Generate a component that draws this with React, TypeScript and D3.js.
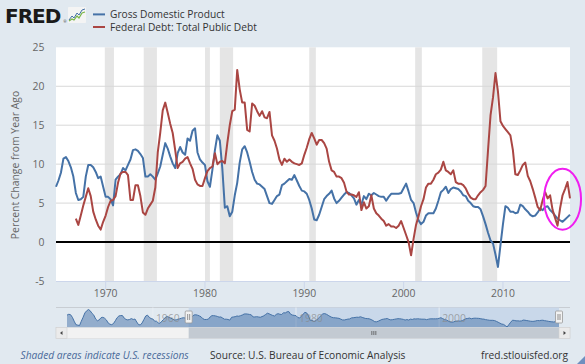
import React from "react";
import * as d3 from "d3";

// ---------- DATA ----------
// Gross Domestic Product, percent change from year ago, quarterly from 1948 Q1
const gdpStartYear = 1948;
const gdpValues: number[] = [
  10.5, 11.5, 11.0, 8.0,
  3.5, -0.5, -1.0, -1.5,
  3.5, 8.0, 13.0, 15.5,
  17.0, 15.5, 12.5, 10.5,
  6.0, 4.0, 5.0, 7.5,
  8.0, 7.0, 5.0, 1.5,
  0.0, -0.5, 0.8, 4.0,
  7.5, 9.5, 10.0, 10.0,
  7.0, 5.5, 5.0, 5.5,
  6.5, 5.5, 6.0, 2.5,
  -0.5, -0.8, 1.5, 5.5,
  9.5, 10.5, 8.0, 6.5,
  6.0, 3.5, 3.5, 1.5,
  1.2, 3.5, 5.5, 8.0,
  9.0, 8.0, 7.0, 6.0,
  5.0, 5.0, 5.8, 6.3,
  7.0, 7.5, 7.2, 6.5,
  7.1, 7.9, 8.9, 10.7, // 1965
  10.9, 10.4, 9.6, 8.4,
  6.3, 5.4, 5.5, 5.8,
  8.4, 9.9, 9.9, 9.6,
  9.0, 8.2, 8.4, 7.1,
  5.8, 5.8, 5.5, 4.7, // 1970
  8.0, 8.4, 8.7, 9.5,
  9.2, 9.9, 10.6, 11.8,
  11.9, 11.7, 11.3, 10.8,
  8.4, 8.4, 8.7, 8.4,
  8.0, 8.8, 9.7, 11.2, // 1975
  12.7, 12.0, 11.0, 10.1,
  9.5, 11.4, 12.2, 11.5,
  11.2, 13.3, 13.0, 14.3,
  14.6, 11.5, 10.6, 10.2,
  9.9, 7.8, 7.1, 9.3, // 1980
  11.8, 13.7, 13.0, 9.4,
  4.4, 4.6, 3.3, 3.9,
  6.0, 7.6, 10.2, 11.9,
  12.3, 11.5, 10.3, 9.0,
  8.0, 7.5, 7.4, 7.1, // 1985
  6.8, 5.9, 5.0, 4.9,
  5.4, 5.9, 6.1, 7.3,
  7.5, 7.8, 8.1, 8.0,
  8.6, 7.9, 7.2, 6.6,
  6.5, 6.2, 5.4, 4.3, // 1990
  2.9, 2.8, 3.5, 4.5,
  5.5, 5.9, 6.2, 6.6,
  5.6, 5.0, 5.3, 5.7,
  6.1, 6.4, 6.3, 6.0,
  5.6, 4.8, 5.4, 4.8, // 1995
  5.9, 5.5, 6.2, 6.0,
  6.3, 6.1, 5.9, 5.8,
  5.8, 5.3, 5.8, 6.2,
  6.2, 6.2, 6.2, 6.3,
  6.9, 7.5, 6.5, 5.4, // 2000
  5.0, 3.8, 2.8, 2.3,
  2.6, 3.4, 3.7, 3.7,
  3.7, 4.3, 5.3, 6.4,
  6.7, 7.1, 6.3, 6.8,
  7.0, 6.9, 6.8, 6.5, // 2005
  6.0, 5.9, 5.3, 5.0,
  4.6, 4.5, 4.5, 4.2,
  3.3, 2.3, 1.2, 0.2,
  -0.2, -1.6, -3.2, -0.4,
  2.3, 4.6, 4.4, 3.9, // 2010
  3.9, 3.7, 3.8, 4.8,
  4.6, 4.2, 3.9, 3.5,
  3.3, 3.4, 3.8, 4.3,
  4.1, 4.5, 4.6, 4.1,
  3.8, 3.4, 3.0, 2.8, // 2015
  2.6, 2.9, 3.2, 3.5,
];

// Federal Debt: Total Public Debt, percent change from year ago, quarterly from 1967 Q1
const debtStartYear = 1967;
const debtValues: number[] = [
  3.0, 2.2, 3.4, 4.7, // 1967
  5.8, 6.9, 5.9, 3.9,
  2.9, 2.1, 1.6, 2.6,
  3.4, 4.5, 5.3, 5.4, // 1970
  5.9, 7.6, 8.8, 9.0,
  9.0, 8.6, 5.4, 5.4,
  7.3, 7.3, 5.9, 3.8,
  3.5, 4.3, 4.8, 5.3,
  7.0, 11.5, 14.0, 16.9, // 1975
  17.9, 16.6, 15.2, 14.0,
  11.8, 9.5, 10.1, 10.3,
  10.7, 10.9, 10.1, 9.4,
  8.0, 7.4, 7.2, 7.2,
  8.2, 9.1, 9.5, 9.7, // 1980
  11.4, 10.0, 10.3, 10.4,
  10.1, 12.7, 15.0, 16.8,
  17.0, 22.1, 19.6, 17.9,
  17.9, 14.4, 14.2, 17.8,
  17.5, 16.8, 16.2, 16.8, // 1985
  16.0, 15.9, 16.7, 13.7,
  13.0, 12.0, 10.6, 9.9,
  10.7, 10.3, 10.6, 10.3,
  10.1, 10.0, 9.9, 10.1,
  11.2, 12.1, 13.2, 14.0, // 1990
  13.3, 12.5, 13.1, 13.1,
  12.7, 12.0, 10.3, 9.2,
  9.0, 8.4, 8.4, 8.2,
  7.6, 6.5, 6.1, 6.1,
  6.0, 5.8, 6.4, 4.1, // 1995
  5.1, 4.3, 4.6, 6.0,
  4.3, 3.7, 3.4, 3.0,
  2.7, 2.1, 2.3, 2.0,
  2.0, 1.8, 2.1, 2.7,
  1.8, 0.9, 0.0, -1.7, // 2000
  0.4, 2.2, 3.3, 4.6,
  5.5, 7.0, 7.5, 7.5,
  8.0, 8.7, 8.9, 9.3,
  10.3, 9.2, 9.0, 8.7,
  9.2, 7.7, 7.5, 7.5, // 2005
  7.3, 6.9, 6.2, 5.7,
  5.5, 5.5, 6.0, 6.4,
  6.7, 7.2, 11.8, 16.3,
  18.6, 21.7, 19.3, 15.5,
  14.9, 14.5, 14.1, 13.7, // 2010
  11.8, 8.7, 8.6, 9.2,
  9.9, 10.2, 8.5, 7.8,
  6.8, 5.7, 4.5, 4.1,
  5.4, 6.4, 5.6, 6.0,
  4.1, 3.1, 2.1, 4.3, // 2015
  6.0, 6.8, 7.7, 5.6,
];

// NBER recessions (start, end)
const recessions: [string, string][] = [
  ["1969-12-01", "1970-11-01"],
  ["1973-11-01", "1975-03-01"],
  ["1980-01-01", "1980-07-01"],
  ["1981-07-01", "1982-11-01"],
  ["1990-07-01", "1991-03-01"],
  ["2001-03-01", "2001-11-01"],
  ["2007-12-01", "2009-06-01"],
];

const yTicks = [-5, 0, 5, 10, 15, 20, 25];
const xTickYears = [1970, 1980, 1990, 2000, 2010];
const navTickYears = [1960, 1980, 2000];

const seriesNames = ["Gross Domestic Product", "Federal Debt: Total Public Debt"];
const seriesColors = ["#4572a7", "#aa4643"];

// ---------- HELPERS ----------
type Pt = { date: Date; value: number };
const toSeries = (startYear: number, vals: number[]): Pt[] =>
  vals.map((v, i) => ({
    date: new Date(startYear + Math.floor(i / 4), (i % 4) * 3, 1),
    value: v,
  }));

const gdp = toSeries(gdpStartYear, gdpValues);
const debt = toSeries(debtStartYear, debtValues);

const FONT = "'Open Sans', 'DejaVu Sans', sans-serif";
const BG = "#e1e9f0";

export default function App() {
  const W = 585;
  const H = 364;
  const plot = { left: 56, right: 570, top: 47.3, bottom: 281 };

  const x = d3
    .scaleTime()
    .domain([new Date(1965, 0, 1), new Date(2016, 9, 1)])
    .range([plot.left, plot.right]);
  const y = d3.scaleLinear().domain([-5, 25]).range([plot.bottom, plot.top]);

  const visible = (s: Pt[]) => s.filter((d) => d.date >= x.domain()[0]);

  const line = d3
    .line<Pt>()
    .x((d) => x(d.date))
    .y((d) => y(d.value));

  // navigator
  const nav = { left: 67, right: 559, top: 307.5, bottom: 327.5 };
  const nx = d3
    .scaleTime()
    .domain([new Date(1948, 0, 1), new Date(2016, 9, 1)])
    .range([nav.left, nav.right]);
  const nyExt = d3.extent(gdpValues) as [number, number];
  const ny = d3.scaleLinear().domain(nyExt).range([nav.bottom - 0.5, nav.top + 2]);
  const navArea = d3
    .area<Pt>()
    .x((d) => nx(d.date))
    .y0(nav.bottom)
    .y1((d) => ny(d.value));
  const navLine = d3
    .line<Pt>()
    .x((d) => nx(d.date))
    .y((d) => ny(d.value));
  const selL = nx(x.domain()[0]);
  const selR = nx(x.domain()[1]);

  const sb = { top: 327.5, bottom: 338.5, left: 56, right: 570, btn: 11 };

  return (
    <svg
      width={W}
      height={H}
      style={{ position: "absolute", left: 0, top: 0, display: "block" }}
      fontFamily={FONT}
    >
      <rect x={0} y={0} width={W} height={H} fill={BG} />

      {/* FRED logo */}
      <text
        x={5}
        y={22.6}
        fontFamily="'DejaVu Sans', sans-serif"
        fontWeight={900}
        fontSize={20}
        letterSpacing={-1}
        fill="#1a1a1a"
      >
        FRED
      </text>
      <text x={63.5} y={22.5} fontSize={3.5} fill="#1a1a1a">
        ®
      </text>
      <g>
        <rect x={68} y={7} width={18} height={16} fill="#f4f4f4" rx={1} />
        <polyline
          points="69,20 72,16 74,18 77,13 79,15 82,10 85,9"
          fill="none"
          stroke="#4572a7"
          strokeWidth={1}
        />
        <polyline
          points="69,21 72,19 74,20 77,16 79,18 82,13 85,12"
          fill="none"
          stroke="#7ab648"
          strokeWidth={1.2}
        />
      </g>

      {/* legend */}
      {seriesNames.map((name, i) => (
        <g key={name}>
          <line
            x1={93}
            x2={105}
            y1={14.4 + i * 12.6}
            y2={14.4 + i * 12.6}
            stroke={seriesColors[i]}
            strokeWidth={2}
          />
          <text x={110} y={18.0 + i * 12.6} fontSize={10.2} fill="#333">
            {name}
          </text>
        </g>
      ))}

      {/* plot background */}
      <rect
        x={plot.left}
        y={plot.top}
        width={plot.right - plot.left}
        height={plot.bottom - plot.top}
        fill="#ffffff"
      />

      {/* recessions */}
      {recessions.map(([s, e]) => (
        <rect
          key={s}
          x={x(new Date(s))}
          y={plot.top}
          width={x(new Date(e)) - x(new Date(s))}
          height={plot.bottom - plot.top}
          fill="#e5e5e5"
        />
      ))}

      {/* grid */}
      {yTicks
        .filter((t) => t !== 0 && t !== -5 && t !== 25)
        .map((t) => (
          <line
            key={t}
            x1={plot.left}
            x2={plot.right}
            y1={y(t)}
            y2={y(t)}
            stroke="#d8d8d8"
            strokeWidth={1}
          />
        ))}

      {/* zero line */}
      <line
        x1={plot.left}
        x2={plot.right}
        y1={y(0)}
        y2={y(0)}
        stroke="#000"
        strokeWidth={2}
      />

      {/* series */}
      <path
        d={line(visible(gdp)) || ""}
        fill="none"
        stroke={seriesColors[0]}
        strokeWidth={2}
        strokeLinejoin="round"
      />
      <path
        d={line(visible(debt)) || ""}
        fill="none"
        stroke={seriesColors[1]}
        strokeWidth={2}
        strokeLinejoin="round"
      />

      {/* y axis labels */}
      {yTicks.map((t) => (
        <text
          key={t}
          x={44.5}
          y={y(t) + 4}
          textAnchor="end"
          fontSize={10.4}
          fill="#666"
        >
          {t}
        </text>
      ))}
      <text
        transform={`translate(18.5,165) rotate(-90)`}
        textAnchor="middle"
        fontSize={10.4}
        fill="#666"
      >
        Percent Change from Year Ago
      </text>

      {/* x axis */}
      <line
        x1={plot.left}
        x2={plot.right}
        y1={plot.bottom + 0.5}
        y2={plot.bottom + 0.5}
        stroke="#ccd6eb"
      />
      {xTickYears.map((yr) => {
        const xx = x(new Date(yr, 0, 1));
        return (
          <g key={yr}>
            <line
              x1={xx}
              x2={xx}
              y1={plot.bottom}
              y2={plot.bottom + 8}
              stroke="#ccd6eb"
            />
            <text x={xx} y={297} textAnchor="middle" fontSize={10.4} fill="#666">
              {yr}
            </text>
          </g>
        );
      })}

      {/* highlight ellipse */}
      <ellipse
        cx={x(new Date(2015, 6, 1)) + 5}
        cy={y(5.5)}
        rx={18.5}
        ry={30.5}
        fill="none"
        stroke="#f01ef0"
        strokeWidth={2}
      />

      {/* navigator */}
      <line x1={sb.left} x2={sb.right} y1={nav.top} y2={nav.top} stroke="#c8cdd3" />
      <rect
        x={selL}
        y={nav.top}
        width={selR - selL}
        height={nav.bottom - nav.top}
        fill="#c9d8ea"
      />
      {navTickYears.map((yr) => (
        <line
          key={yr}
          x1={nx(new Date(yr, 0, 1))}
          x2={nx(new Date(yr, 0, 1))}
          y1={nav.top}
          y2={nav.bottom}
          stroke="#e8eef4"
        />
      ))}
      <path d={navArea(gdp) || ""} fill="#4572a7" fillOpacity={0.5} />
      <path d={navLine(gdp) || ""} fill="none" stroke="#4572a7" strokeWidth={1} />
      {navTickYears.map((yr) => (
        <text
          key={yr}
          x={nx(new Date(yr, 0, 1)) + 3}
          y={322}
          fontSize={10.4}
          fill="#888"
          fillOpacity={0.7}
        >
          {yr}
        </text>
      ))}
      {[selL, selR].map((hx, i) => (
        <g key={i}>
          <rect
            x={hx - 3.5}
            y={311}
            width={7}
            height={12}
            rx={1}
            fill="#f2f2f2"
            stroke="#999"
            strokeWidth={0.8}
          />
          <line x1={hx - 1} x2={hx - 1} y1={314} y2={320} stroke="#666" strokeWidth={0.7} />
          <line x1={hx + 1} x2={hx + 1} y1={314} y2={320} stroke="#666" strokeWidth={0.7} />
        </g>
      ))}

      {/* scrollbar */}
      <rect
        x={sb.left}
        y={sb.top}
        width={sb.right - sb.left}
        height={sb.bottom - sb.top}
        fill="#f2f2f2"
        stroke="#d9d9d9"
        strokeWidth={0.5}
      />
      <rect
        x={selL}
        y={sb.top}
        width={selR - selL}
        height={sb.bottom - sb.top}
        fill="#c3cad2"
      />
      {[-2, 0, 2].map((o) => (
        <line
          key={o}
          x1={(selL + selR) / 2 + o}
          x2={(selL + selR) / 2 + o}
          y1={sb.top + 3.5}
          y2={sb.bottom - 3.5}
          stroke="#555"
          strokeWidth={0.8}
        />
      ))}
      <rect
        x={sb.left}
        y={sb.top}
        width={sb.btn}
        height={sb.bottom - sb.top}
        fill="#ebebeb"
        stroke="#cfcfcf"
        strokeWidth={0.6}
      />
      <rect
        x={sb.right - sb.btn}
        y={sb.top}
        width={sb.btn}
        height={sb.bottom - sb.top}
        fill="#ebebeb"
        stroke="#cfcfcf"
        strokeWidth={0.6}
      />
      <path
        d={`M${sb.left + 6.5},${sb.top + 3.5} L${sb.left + 4},${(sb.top + sb.bottom) / 2} L${sb.left + 6.5},${sb.bottom - 3.5} Z`}
        fill="#444"
      />
      <path
        d={`M${sb.right - 6.5},${sb.top + 3.5} L${sb.right - 4},${(sb.top + sb.bottom) / 2} L${sb.right - 6.5},${sb.bottom - 3.5} Z`}
        fill="#444"
      />

      {/* footer */}
      <text x={20.5} y={359} fontSize={10.2} fontStyle="italic" fill="#4a6a9a">
        Shaded areas indicate U.S. recessions
      </text>
      <text x={210} y={359} fontSize={10.2} fill="#333">
        Source: U.S. Bureau of Economic Analysis
      </text>
      <text x={568} y={359} fontSize={10.2} fill="#333" textAnchor="end">
        fred.stlouisfed.org
      </text>
      <path d="M577,364 L585,356 L585,364 Z" fill="#6f8fbf" />
    </svg>
  );
}
